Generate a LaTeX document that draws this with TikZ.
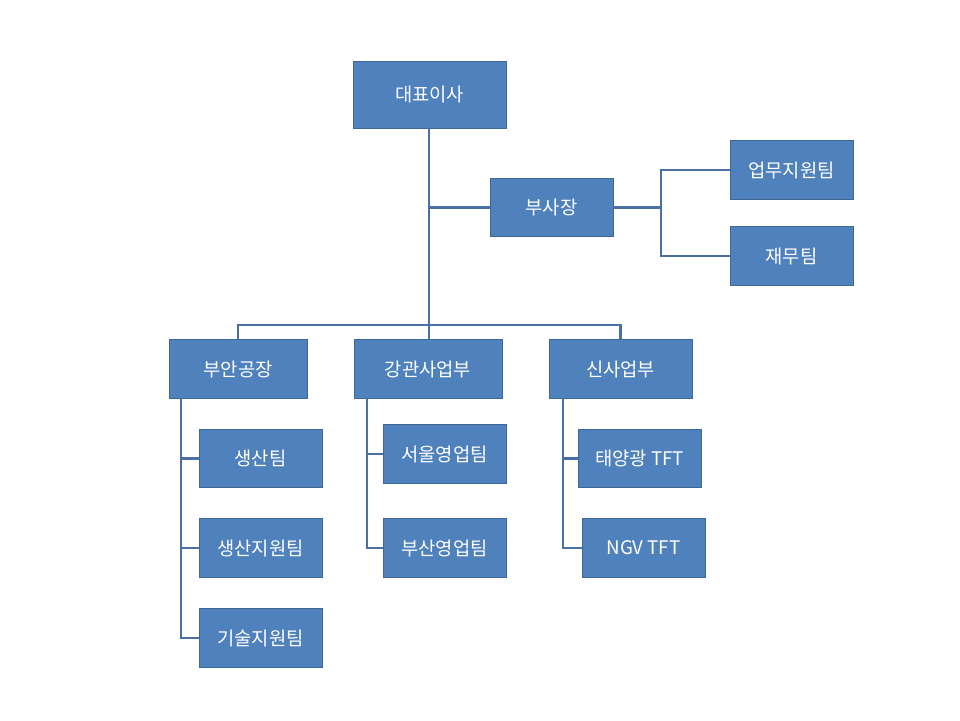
\documentclass[tikz,border=0pt]{standalone}
\usepackage{fontspec}
\setmainfont{Noto Sans CJK KR}
\usetikzlibrary{calc}
\definecolor{boxblue}{HTML}{4F81BD}
\definecolor{boxline}{HTML}{3F6797}
\definecolor{wireblue}{HTML}{4A6FA3}
\begin{document}
\begin{tikzpicture}[x=0.03cm, y=-0.03cm,
    unit/.style=
    {fill=boxblue, draw=boxline, line width=0.6pt, text=white, inner sep=0pt,
     minimum height=1.75cm, font=\fontsize{16}{19}\selectfont},
    wire/.style={draw=wireblue, line width=2.2pt}]
    \useasboundingbox (0,0) rectangle (960,720);
    \node (ceo) [unit, minimum width=4.59cm, minimum height=2.01cm] at (429.5,94.5) {대표이사};
    \node (vp) [unit, minimum width=3.69cm] at (551.5,207.5) {부사장};
    \node (biz) [unit, minimum width=3.69cm] at (791.5,170) {업무지원팀};
    \node (fin) [unit, minimum width=3.69cm] at (791.5,256) {재무팀};
    \node (plant) [unit, minimum width=4.14cm] at (238,369) {부안공장};
    \node (pipe) [unit, minimum width=4.44cm] at (428,369) {강관사업부};
    \node (new) [unit, minimum width=4.29cm] at (620.5,369) {신사업부};
    \node (prod) [unit, minimum width=3.69cm] at (260.5,458.5) {생산팀};
    \node (psup) [unit, minimum width=3.69cm] at (260.5,548) {생산지원팀};
    \node (tsup) [unit, minimum width=3.69cm] at (260.5,638) {기술지원팀};
    \node (seoul) [unit, minimum width=3.69cm] at (444.5,454) {서울영업팀};
    \node (busan) [unit, minimum width=3.69cm] at (444.5,548) {부산영업팀};
    \node (solar) [unit, minimum width=3.69cm] at (639.5,458.5) {태양광 TFT};
    \node (ngv) [unit, minimum width=3.69cm] at (643.5,548) {NGV TFT};
    \coordinate (bus) at (429,325);
    \coordinate (vpfork) at (661,207.5);
    \coordinate (plantrail) at (181,398);
    \coordinate (piperail) at (367,398);
    \coordinate (newrail) at (563,398);
    % trunk and bus
    \path[wire] (ceo.south -| bus) -- (bus);
    \path[wire] (bus |- vp) -- (vp.west);
    \path[wire] (plant.north) -- (plant.north |- bus) -- (new.north |- bus) -- (new.north);
    \path[wire] (pipe.north -| bus) -- (bus);
    % vice president
    \path[wire] (vp.east) -- (vpfork);
    \path[wire] (biz.west) -| (vpfork) |- (fin.west);
    % departments
    \path[wire] (plantrail) |- (tsup.west);
    \foreach \t in {prod, psup}
        \path[wire] (plantrail |- \t) -- (\t.west);
    \path[wire] (piperail) |- (busan.west);
    \path[wire] (piperail |- seoul) -- (seoul.west);
    \path[wire] (newrail) |- (ngv.west);
    \path[wire] (newrail |- solar) -- (solar.west);
\end{tikzpicture}
\end{document}
